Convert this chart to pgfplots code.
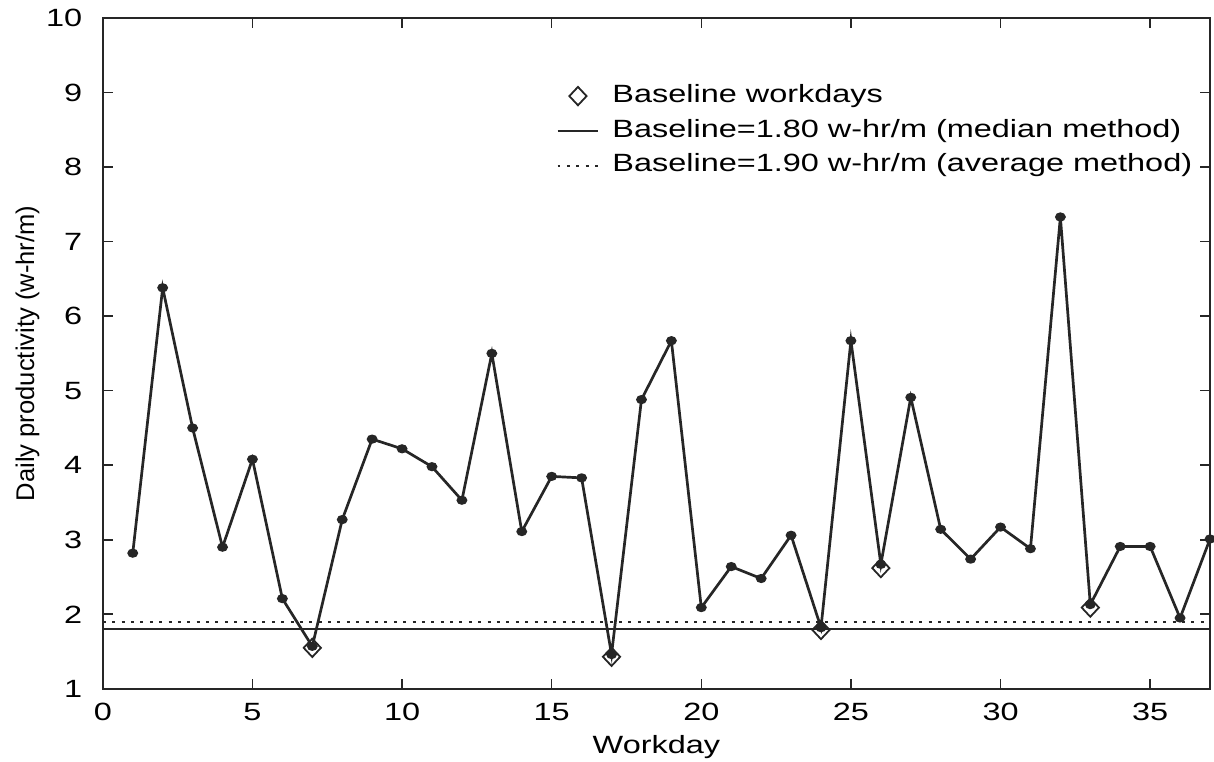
\documentclass[border=0pt]{standalone}
\usepackage{graphicx}
\usepackage{fontspec}
\setmainfont{Liberation Sans}
\usepackage{pgfplots}
\pgfplotsset{compat=1.18}
\newcommand{\hs}[1]{\scalebox{1.3}[1]{#1}}
\pgfplotstableread{
x y
1 2.82
2 6.38
3 4.50
4 2.90
5 4.08
6 2.21
7 1.57
8 3.27
9 4.35
10 4.22
11 3.98
12 3.53
13 5.50
14 3.11
15 3.85
16 3.83
17 1.46
18 4.88
19 5.67
20 2.09
21 2.64
22 2.48
23 3.06
24 1.82
25 5.67
26 2.67
27 4.91
28 3.14
29 2.74
30 3.17
31 2.88
32 7.33
33 2.13
34 2.91
35 2.91
36 1.95
37 3.01
}\prod
\pgfplotstableread{
x y
7 1.55
17 1.43
24 1.79
26 2.62
33 2.09
}\base
\begin{document}
\fontsize{12.5}{15}\selectfont
\begin{tikzpicture}
\begin{axis}[
  scale only axis, width=554.5pt, height=336pt,
  xmin=0, xmax=37, ymin=1, ymax=10,
  xtick={0,5,...,35}, ytick={1,2,...,10},
  tick align=inside, major tick length=5pt,
  axis line style={line width=1.1pt, black!85},
  every tick/.style={line width=0.8pt, black!85},
  /pgf/number format/assume math mode=true,
  xticklabel={\hs{\pgfmathprintnumber{\tick}}},
  yticklabel={\hs{\pgfmathprintnumber{\tick}}},
  tick label style={font=\fontsize{12.5}{15}\selectfont},
  xticklabel style={yshift=-3pt},
  yticklabel style={xshift=-6pt},
  xlabel={\hs{Workday}},
  ylabel={Daily productivity (w-hr/m)},
  xlabel style={at={(axis description cs:0.5,-0.0685)}, anchor=north, inner sep=0pt, font=\fontsize{12.5}{15}\selectfont},
  ylabel style={at={(axis description cs:-0.0568,0.5)}, anchor=south, inner sep=0pt, font=\fontsize{12.8}{15}\selectfont},
  legend cell align=left,
  legend style={draw=none, fill=none, inner sep=0pt,
    at={(axis description cs:0.4094,0.902)}, anchor=north west,
    nodes={inner sep=0pt, text height=9pt, text depth=3pt, font=\fontsize{12.5}{15}\selectfont},
    row sep=5.5pt, column sep=6.5pt},
  legend image code/.code={\draw[mark repeat=2,mark phase=2,#1] plot coordinates {(0pt,0pt) (10.25pt,0pt) (20.5pt,0pt)};},
]
\addplot[black!85, line width=1.35pt, mark=*, mark size=1.6pt, mark options={xscale=1.25}, forget plot] table[x=x,y=y] {\prod};
\addplot[only marks, mark=diamond, mark size=4.6pt, mark options={xscale=1.25}, black!85, line width=0.9pt] table[x=x,y=y] {\base};
\addlegendentry{\hs{Baseline workdays}}
\addplot[black!85, line width=1pt] coordinates {(0,1.8) (37,1.8)};
\addlegendentry{\hs{Baseline=1.80 w-hr/m (median method)}}
\addplot[black!85, line width=1pt, dash pattern=on 1.5pt off 3.2pt] coordinates {(0,1.9) (37,1.9)};
\addlegendentry{\hs{Baseline=1.90 w-hr/m (average method)}}
\end{axis}
\path (current axis.south west) ++(-51.5pt,-36.5pt) (current axis.north east) ++(2pt,9pt);
\end{tikzpicture}
\end{document}
